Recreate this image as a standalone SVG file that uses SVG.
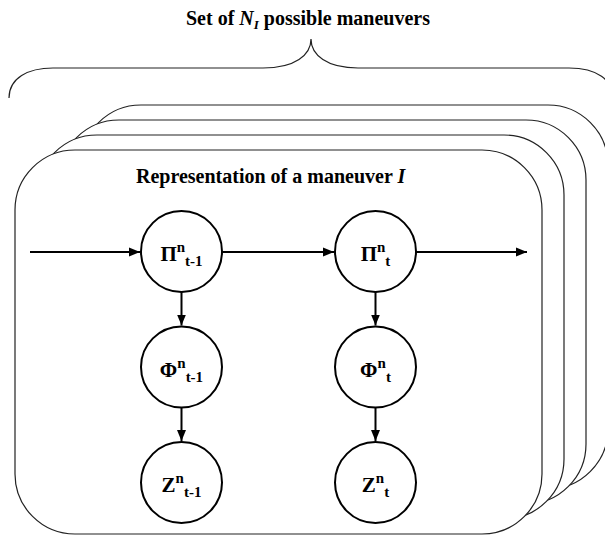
<svg xmlns="http://www.w3.org/2000/svg" width="605" height="536" viewBox="0 0 605 536">
<defs>
<marker id="arr" markerUnits="userSpaceOnUse" markerWidth="12" markerHeight="10" refX="11" refY="5" orient="auto">
<path d="M0,0.5 L11,5 L0,9.5 Z" fill="#000"/>
</marker>
<style>
.frame{fill:#fff;stroke:#222;stroke-width:1.2}
.brace{fill:none;stroke:#222;stroke-width:1.2}
.node circle{fill:#fff;stroke:#000;stroke-width:2}
.lbl{font-family:"Liberation Serif","Times New Roman","DejaVu Serif",serif;font-weight:bold;font-size:20px;fill:#000}
.nl{font-size:21px}
.sm{font-size:13px}
.ss{font-size:15px}
.edge{stroke:#000;stroke-width:2;fill:none;marker-end:url(#arr)}
</style>
</defs>
<rect width="605" height="536" fill="#fff"/>
<text class="lbl" x="186" y="25">Set of <tspan font-style="italic">N</tspan><tspan font-style="italic" class="sm" dy="4">I</tspan><tspan dy="-4"> possible maneuvers</tspan></text>
<path class="brace" d="M9,98 C9,78 28,68 53,68 L263,68 C295,68 311,55 311,39 C311,55 327,68 358,68 L569,68 C597,68 613,80 613,98"/>
<g id="frames">
<rect class="frame" x="81" y="105" width="527" height="384" rx="60" ry="60"/>
<rect class="frame" x="59" y="120" width="527" height="384" rx="60" ry="60"/>
<rect class="frame" x="37" y="135" width="527" height="384" rx="60" ry="60"/>
<rect class="frame" x="15" y="150" width="527" height="384" rx="60" ry="60"/>
</g>
<text class="lbl" x="136" y="183">Representation of a maneuver <tspan font-style="italic">I</tspan></text>
<g id="connectors">
<line class="edge" x1="30" y1="252" x2="140" y2="252"/>
<line class="edge" x1="222" y1="252" x2="334" y2="252"/>
<line class="edge" x1="416" y1="252" x2="527" y2="252"/>
<line class="edge" x1="181.5" y1="292" x2="181.5" y2="325.5"/>
<line class="edge" x1="375.5" y1="292" x2="375.5" y2="325.5"/>
<line class="edge" x1="181.5" y1="407.5" x2="181.5" y2="441"/>
<line class="edge" x1="375.5" y1="407.5" x2="375.5" y2="441"/>
</g>
<g id="pi_t1" class="node"><circle cx="181.5" cy="251.5" r="40.5"/><text class="lbl nl" x="181.5" y="261" text-anchor="middle">Π<tspan class="ss" dy="-9">n</tspan><tspan class="ss" dy="14">t-1</tspan></text></g>
<g id="pi_t" class="node"><circle cx="375.5" cy="251.5" r="40.5"/><text class="lbl nl" x="375.5" y="261" text-anchor="middle">Π<tspan class="ss" dy="-9">n</tspan><tspan class="ss" dy="14">t</tspan></text></g>
<g id="phi_t1" class="node"><circle cx="181.5" cy="367" r="40.5"/><text class="lbl nl" x="181.5" y="376.5" text-anchor="middle">Φ<tspan class="ss" dy="-9">n</tspan><tspan class="ss" dy="14">t-1</tspan></text></g>
<g id="phi_t" class="node"><circle cx="375.5" cy="367" r="40.5"/><text class="lbl nl" x="375.5" y="376.5" text-anchor="middle">Φ<tspan class="ss" dy="-9">n</tspan><tspan class="ss" dy="14">t</tspan></text></g>
<g id="z_t1" class="node"><circle cx="181.5" cy="482.5" r="40.5"/><text class="lbl nl" x="181.5" y="492" text-anchor="middle">Z<tspan class="ss" dy="-9">n</tspan><tspan class="ss" dy="14">t-1</tspan></text></g>
<g id="z_t" class="node"><circle cx="375.5" cy="482.5" r="40.5"/><text class="lbl nl" x="375.5" y="492" text-anchor="middle">Z<tspan class="ss" dy="-9">n</tspan><tspan class="ss" dy="14">t</tspan></text></g>
</svg>
